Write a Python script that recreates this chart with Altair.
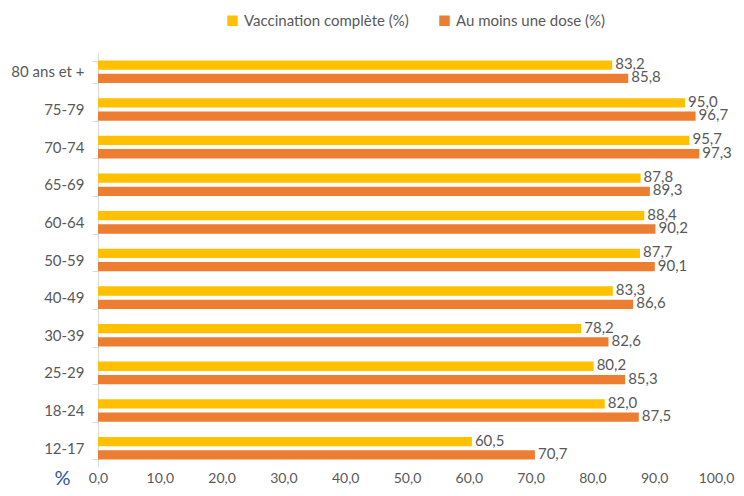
import altair as alt
import pandas as pd

categories = ["80 ans et +", "75-79", "70-74", "65-69", "60-64", "50-59",
              "40-49", "30-39", "25-29", "18-24", "12-17"]
complete = [83.2, 95.0, 95.7, 87.8, 88.4, 87.7, 83.3, 78.2, 80.2, 82.0, 60.5]
one_dose = [85.8, 96.7, 97.3, 89.3, 90.2, 90.1, 86.6, 82.6, 85.3, 87.5, 70.7]
series = ["Vaccination complète (%)", "Au moins une dose (%)"]
colors = ["#FFC000", "#ED7D31"]
x_ticks = [0, 10, 20, 30, 40, 50, 60, 70, 80, 90, 100]

rows = []
for c, a, b in zip(categories, complete, one_dose):
    rows.append({"cat": c, "serie": series[0], "v": a})
    rows.append({"cat": c, "serie": series[1], "v": b})
df = pd.DataFrame(rows)

FONT = "Lato"
GREY = "#595959"

y_enc = alt.Y("cat:N", sort=categories,
              scale=alt.Scale(paddingInner=0.4, paddingOuter=0.2),
              axis=alt.Axis(title=None, labelFont=FONT, labelFontSize=15,
                            labelColor=GREY, domainColor="#D9D9D9",
                            tickColor="#D9D9D9", tickBand="extent",
                            tickSize=6, labelPadding=8, grid=False))
yoff = alt.YOffset("serie:N", sort=series,
                   scale=alt.Scale(paddingInner=0.3))
x_enc = alt.X("v:Q", scale=alt.Scale(domain=[0, 100], nice=False),
              axis=alt.Axis(values=x_ticks, grid=False, domain=False, ticks=False,
                            labelFont=FONT, labelFontSize=14, labelColor=GREY,
                            labelPadding=4, labelFlush=False, labelOverlap=False,
                            labelExpr="replace(format(datum.value, '.1f'), '.', ',')",
                            title="%", titleFont=FONT, titleFontSize=20,
                            titleFontWeight="normal", titleColor="#2F5597",
                            titleX=-36, titleY=11, titleBaseline="middle",
                            titleAngle=0))

base = alt.Chart(df)

bars = base.mark_bar().encode(
    x=x_enc,
    y=y_enc,
    yOffset=yoff,
    color=alt.Color("serie:N", sort=series,
                    scale=alt.Scale(domain=series, range=colors),
                    legend=alt.Legend(title=None, orient="none", direction="horizontal",
                                      legendX=127, legendY=-40, symbolType="square",
                                      symbolSize=110, symbolStrokeWidth=0,
                                      labelFont=FONT, labelFontSize=15, labelLimit=0,
                                      labelColor=GREY, columnPadding=28,
                                      symbolOpacity=1)),
)

labels = base.mark_text(align="left", baseline="middle", dx=3, dy=-1,
                        font=FONT, fontSize=15, color=GREY).encode(
    x=alt.X("v:Q"),
    y=alt.Y("cat:N", sort=categories),
    yOffset=alt.YOffset("serie:N", sort=series),
    text=alt.Text("label:N"),
).transform_calculate(label="replace(format(datum.v, '.1f'), '.', ',')")

chart = alt.layer(bars, labels).properties(
    width=618, height=414,
    autosize=alt.AutoSizeParams(type="none"),
    padding={"left": 90, "top": 45, "right": 20, "bottom": 21},
).configure_view(stroke=None)

chart.save("out.html", embed_options={"renderer": "svg", "actions": False})
